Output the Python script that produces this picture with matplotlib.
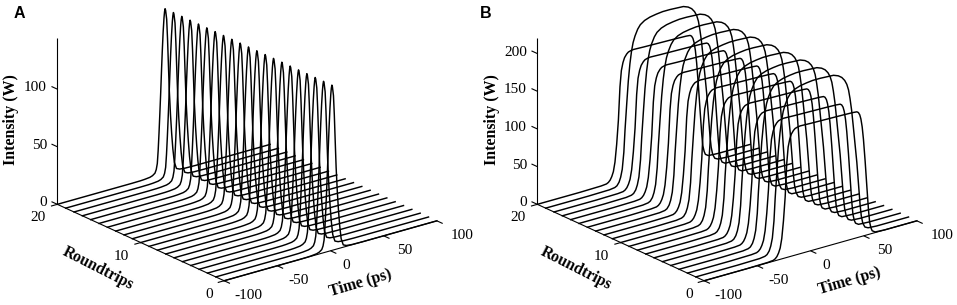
import matplotlib
matplotlib.use("Agg")
import matplotlib.pyplot as plt
import numpy as np
from mpl_toolkits.mplot3d import proj3d

W, H = 957, 305

# ---------- data ----------
roundtrips = list(range(21))
time_ticks = [-100, -50, 0, 50, 100]
round_ticks = [0, 10, 20]
a_int_ticks = [0, 50, 100]
b_int_ticks = [0, 50, 100, 150, 200]
a_top = 144
b_top = 220

# Panel A pulse (time in ps, intensity in W)
a_time = [-100, -60, -30, -22, -18, -13, -10.5, -8.2, -7, -6, -5.2, -4.4, -3.6, -2.8, -2, -1.3, -0.5, 0.3,
          0.8, 1.3, 1.8, 2.8, 3.6, 4.4, 5.3, 6.4, 7.5, 8.6, 10, 12, 15, 20, 30, 60, 100]
a_int = [0, 0, 0, 0.1, 0.3, 0.8, 1.6, 3.2, 6, 11, 22, 37, 54, 72, 92, 108, 124, 136,
         141, 143.5, 142, 134, 117, 95, 71, 50, 33.5, 20, 8, 2, 0.7, 0.2, 0, 0, 0]

# Panel B profiles: alternating roundtrips (low on even, high on odd)
b_low_time = [-100, -60, -40, -35, -33.2, -31.5, -30, -28.5, -27, -25.4, -23.8, -22.3, -21, -19.5, -18, -16, -14.4, -12, -9.7,
              0, 15, 30, 40, 43.6, 45, 46.3, 47.4, 48.6, 49.8, 51.4, 53, 54.5, 55.6, 56.8, 58, 60.8, 70, 100]
b_low_int = [0, 0, 0.5, 1.2, 2.5, 5, 9, 15, 27, 50, 81, 125, 146, 156, 162, 166, 168, 169, 169.5,
             169, 168.5, 168, 167.5, 167, 165.5, 162, 156, 145, 128, 98, 64, 33, 16, 8, 3.5, 0.8, 0, 0]
b_high_time = [-100, -60, -40, -35, -33, -31, -29.5, -28, -26.5, -25.4, -23.8, -22.3, -20.8, -19.3, -17.8, -16, -13.5, -11, -7, -2, 4, 10,
               16.9, 29.5, 34, 37.3, 40, 42, 43.6, 45, 46.5, 48, 51.4, 54.5, 55.6, 57, 59, 62, 70, 100]
b_high_int = [0, 0, 0.5, 1.5, 3, 7, 13, 23, 45, 74, 108, 138, 160, 176, 187, 195, 203, 208, 212, 214.5, 216, 217,
              217, 216, 213.5, 210, 205, 199, 191, 179, 163, 142, 92, 34, 19, 9, 3, 0.8, 0, 0]

# ---------- style ----------
plt.rcParams["font.family"] = ["Liberation Serif", "DejaVu Serif"]
LW_CURVE = 1.05
LW_AXIS = 0.8
TICK_SIZE = 11.0
LABEL_SIZE = 11.4

fig = plt.figure(figsize=(W / 100, H / 100), dpi=100)


def to_px(ax, x, y, z):
    X, Y, _ = proj3d.proj_transform(x, y, z, ax.get_proj())
    return ax.transData.transform((X, Y))


def make_axes(top, corner_px):
    side = 480
    ax = fig.add_axes([0, 0, side / W, side / H], projection="3d", proj_type="ortho")
    ax.patch.set_visible(False)
    ax.set_axis_off()
    ax.view_init(elev=21.05, azim=-128.1)
    ax.set_xlim(-100, 100, view_margin=0)
    ax.set_ylim(0, 20, view_margin=0)
    ax.set_zlim(0, top, view_margin=0)
    ax.set_box_aspect((1, 1, 0.6574), zoom=1.0)
    ax.apply_aspect()
    p0 = to_px(ax, -100, 0, 0)
    p1 = to_px(ax, 100, 0, 0)
    scale = 221.0 / np.hypot(*(p1 - p0))
    ax.set_box_aspect((1, 1, 0.6574), zoom=scale)
    ax.apply_aspect()
    c = to_px(ax, -100, 20, 0)
    dx = corner_px[0] - c[0]
    dy = (H - corner_px[1]) - c[1]
    ax.set_position([dx / W, dy / H, side / W, side / H])
    ax.apply_aspect()
    return ax


def label(ax, x, y, z, dx, dy, text, **kw):
    p = to_px(ax, x, y, z)
    fig.text((p[0] + dx) / W, (p[1] + dy) / H, text, **kw)


def draw_frame(ax, top, int_ticks):
    k = dict(color="black", lw=LW_AXIS, clip_on=False, solid_capstyle="butt")
    ax.plot([-100, 100], [0, 0], [0, 0], **k)
    ax.plot([-100, -100], [0, 20], [0, 0], **k)
    ax.plot([-100, -100], [20, 20], [0, top], **k)
    for t in time_ticks:
        ax.plot([t, t], [0, -0.7], [0, 0], **k)
        label(ax, t, 0, 0, 10.5 + (t + 100) * 0.018, -15, str(t), size=TICK_SIZE, ha="left", va="center")
    for r in round_ticks:
        ax.plot([-100, -106], [r, r], [0, 0], **k)
        label(ax, -100, r, 0, -11.5, -13.5, str(r), size=TICK_SIZE, ha="right", va="center")
    for v in int_ticks:
        ax.plot([-100, -100], [20, 20.7], [v, v], **k)
        label(ax, -100, 20, v, -10.5, 1.5, str(v), size=TICK_SIZE, ha="right", va="center")


# Panel A
ax_a = make_axes(a_top, (57.33, 204.33))
for r in roundtrips:
    ax_a.plot(a_time, [r] * len(a_time), a_int, color="black", lw=LW_CURVE, clip_on=False)
draw_frame(ax_a, a_top, a_int_ticks)

# Panel B
ax_b = make_axes(b_top, (537.33, 204.33))
for r in roundtrips:
    tt, ii = (b_low_time, b_low_int) if r % 2 == 0 else (b_high_time, b_high_int)
    ax_b.plot(tt, [r] * len(tt), ii, color="black", lw=LW_CURVE, clip_on=False)
draw_frame(ax_b, b_top, b_int_ticks)


def ptext(px, py, s, **kw):
    fig.text(px / W, (H - py) / H, s, **kw)


bold = dict(weight="bold", size=LABEL_SIZE, ha="center", va="center", rotation_mode="anchor")
ptext(11.5, 120, "Intensity (W)", rotation=90, **bold)
ptext(98, 268, "Roundtrips", rotation=-27, **bold)
ptext(360.5, 283, "Time (ps)", rotation=16.5, **bold)
ptext(491.5, 120, "Intensity (W)", rotation=90, **bold)
ptext(576, 268, "Roundtrips", rotation=-27, **bold)
ptext(850, 281.5, "Time (ps)", rotation=16.5, **bold)

panel = dict(family="Liberation Sans", weight="bold", size=11.5, ha="center", va="center")
ptext(19, 13.5, "A", **panel)
ptext(485.5, 13, "B", **panel)

fig.savefig("out.png", dpi=100)
